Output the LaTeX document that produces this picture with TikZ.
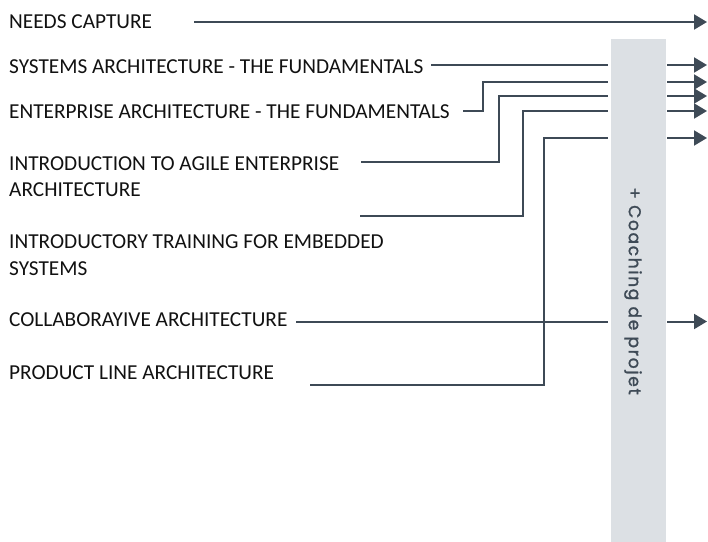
\documentclass[tikz,border=0pt]{standalone}
\usepackage{fontspec}
\setmainfont{Carlito}
\newfontfamily\coachfont{Poppins}[LetterSpace=10,FakeBold=1.6]
\usetikzlibrary{arrows.meta}
\definecolor{lc}{HTML}{3E4A56}
\definecolor{barc}{HTML}{DCE0E4}
\definecolor{txt}{HTML}{111111}
\tikzset{
  lbl/.style={anchor=base west, inner sep=0pt, text=txt, font=\fontsize{21.3}{26.3}\selectfont, align=left},
  link/.style={draw=lc, line width=2pt},
  outarrow/.style={draw=lc, line width=2pt, -{Triangle[length=13pt,width=15pt]}},
}
\begin{document}
\begin{tikzpicture}[x=1pt,y=-1pt]
\useasboundingbox (0,0) rectangle (708,541);
% bar
\node[fill=barc, minimum width=55pt, minimum height=504pt, inner sep=0pt, anchor=north west] (bar) at (610.7,38.3) {};
\node[rotate=-90, text=lc, font=\coachfont\fontsize{17}{20}\selectfont] (coach) at (633,291) {+ Coaching de projet};
% labels
\node[lbl] (ncap) at (9,28.3) {NEEDS CAPTURE};
\node[lbl] (sys) at (9,73.3) {SYSTEMS ARCHITECTURE - THE FUNDAMENTALS};
\node[lbl] (ent) at (9,118.3) {ENTERPRISE ARCHITECTURE - THE FUNDAMENTALS};
\node[lbl] (agile) at (9,196.7) {INTRODUCTION TO AGILE ENTERPRISE\\ARCHITECTURE};
\node[lbl] (emb) at (9,275) {INTRODUCTORY TRAINING FOR EMBEDDED\\SYSTEMS};
\node[lbl] (col) at (9,326.7) {COLLABORAYIVE ARCHITECTURE};
\node[lbl] (prod) at (9,379.3) {PRODUCT LINE ARCHITECTURE};
% coordinates
\coordinate (s0) at (194,22);   \coordinate (t0) at (707,22);
\coordinate (s1) at (431,65);   \coordinate (i1) at (608,65);   \coordinate (o1) at (667,65);   \coordinate (t1) at (707,65);
\coordinate (s2) at (463,111);  \coordinate (i2) at (608,82);   \coordinate (o2) at (667,82);   \coordinate (t2) at (707,82);
\coordinate (s3) at (361,162);  \coordinate (i3) at (608,96);   \coordinate (o3) at (667,96);   \coordinate (t3) at (707,96);
\coordinate (s4) at (360,216);  \coordinate (i4) at (608,111);  \coordinate (o4) at (667,111);  \coordinate (t4) at (707,111);
\coordinate (s5) at (310,385);  \coordinate (i5) at (608,138);  \coordinate (o5) at (667,138);  \coordinate (t5) at (707,138);
\coordinate (s6) at (296,321.5);\coordinate (i6) at (608,321.5);\coordinate (o6) at (667,321.5);\coordinate (t6) at (707,321.5);
% connectors
\draw[outarrow] (s0) -- (t0);
\draw[link] (s1) -- (i1);
\draw[link] (s2) -- (483,111) |- (i2);
\draw[link] (s3) -- (499,162) |- (i3);
\draw[link] (s4) -- (523,216) |- (i4);
\draw[link] (s5) -- (543.5,385) |- (i5);
\draw[link] (s6) -- (i6);
\foreach \k in {1,...,6} {\draw[outarrow] (o\k) -- (t\k);}
\end{tikzpicture}
\end{document}
